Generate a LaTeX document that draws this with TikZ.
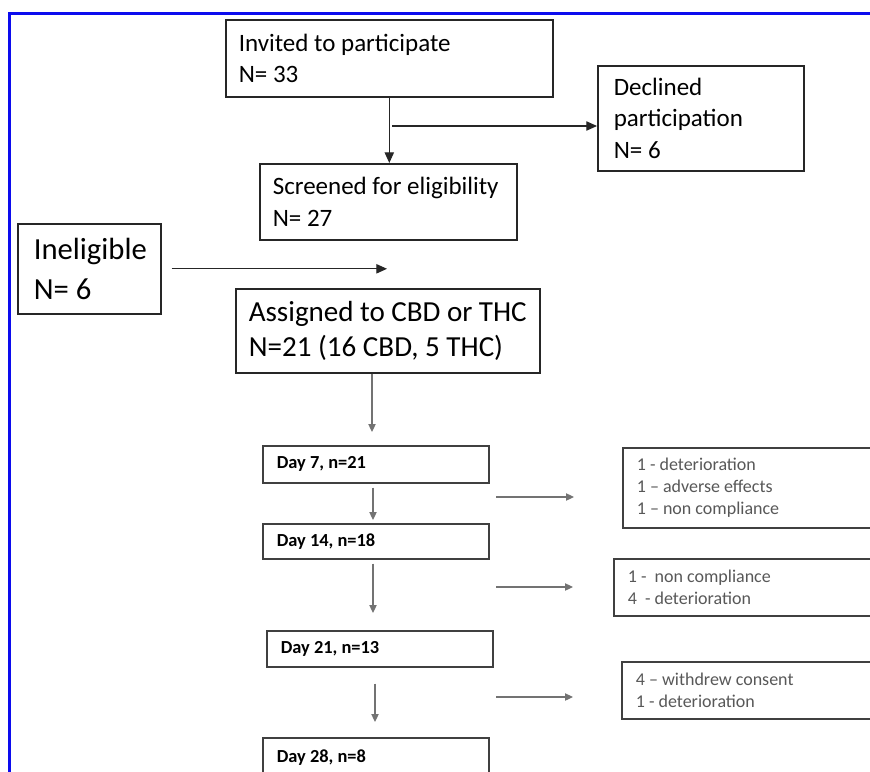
\documentclass[tikz,border=0pt]{standalone}
\usepackage{fontspec}
\setmainfont{Carlito}
\usetikzlibrary{arrows.meta}
\usetikzlibrary{positioning}
\definecolor{frame_blue}{RGB}{12,12,238}
\definecolor{line_grey}{RGB}{115,115,115}
\definecolor{text_grey}{RGB}{88,88,88}
\tikzstyle{top_box} = [
    draw=black!85, 
    line width=1.2pt, 
    anchor=north west, 
    align=flush left, 
    inner xsep=9.75pt, 
    inner ysep=0pt, 
    font=\fontsize{18.75}{23.5}\selectfont
]
\tikzstyle{big_box} = [
    top_box, 
    font=\fontsize{21.8}{26}\selectfont
]
\tikzstyle{day_box} = [
    top_box, 
    draw=black!75, 
    inner xsep=10.5pt, 
    text width=148.5pt, 
    font=\fontsize{13.8}{16}\selectfont\bfseries
]
\tikzstyle{loss_box} = [
    day_box, 
    text width=204pt, 
    text=text_grey, 
    font=\fontsize{13.5}{16.5}\selectfont
]
\tikzstyle{top_arrow} = [
    draw=black!85, 
    line width=0.8pt, 
    -{Triangle[length=8pt, width=7pt]}
]
\tikzstyle{low_arrow} = [
    draw=line_grey, 
    line width=0.8pt, 
    -{Triangle[length=6pt, width=5.5pt]}
]

\begin{document}
\begin{tikzpicture}[x=0.75pt, y=-0.75pt]
\clip (0,0) rectangle (870,771);
\fill[white] (0,0) rectangle (870,771);
\draw[frame_blue, line width=2.25pt] (9,772) -- (9,13) -- (871,13);

% enrolment
\node [top_box, text width=225.75pt, minimum height=57.75pt] (invited) at (225,19)
    {Invited to participate\\N= 33};
\node [top_box, inner xsep=12pt, text width=130.5pt, minimum height=78.75pt] (declined) at (597,65)
    {Declined\\participation\\N= 6};
\node [top_box, text width=173.25pt, minimum height=57pt] (screened) at (259,163)
    {Screened for eligibility\\N= 27};
\node [big_box, inner xsep=12pt, text width=83.25pt, minimum height=67.5pt,
    font=\fontsize{23}{30}\selectfont] (inelig) at (17,223)
    {Ineligible\\N= 6};
\node [big_box, text width=208.5pt, minimum height=63pt] (assigned) at (235,288)
    {Assigned to CBD or THC\\N=21 (16 CBD, 5 THC)};

% follow-up
\node [day_box, minimum height=27.75pt] (day7) at (262,445) {Day 7, n=21};
\node [day_box, minimum height=26.25pt] (day14) at (262,523) {Day 14, n=18};
\node [day_box, minimum height=27pt] (day21) at (266,630) {Day 21, n=13};
\node [day_box, minimum height=30pt] (day28) at (262,737) {Day 28, n=8};

\node [loss_box, minimum height=60pt] (loss7) at (622,447)
    {1 - deterioration\\1 -- adverse effects\\1 -- non compliance};
\node [loss_box, minimum height=42.75pt] (loss14) at (613,558)
    {1 -\ \ non compliance\\4\ \ - deterioration};
\node [loss_box, minimum height=42.75pt] (loss21) at (621,661)
    {4 -- withdrew consent\\1 - deterioration};

\coordinate (split) at (392,126);
\coordinate (inelig_end) at (387,265);
\coordinate (c0) at (372,432);
\coordinate (c1) at (373,520);
\coordinate (c2) at (373,613);
\coordinate (c3) at (375,722);
\coordinate (s1) at (496,497);
\coordinate (s2) at (496,587);
\coordinate (s3) at (496,697);

\draw [top_arrow] (invited.south) -- (invited.south |- screened.north);
\draw [top_arrow] (split) -- (split -| declined.west);
\draw [top_arrow, shorten <=7.5pt] (inelig.east) -- (inelig.east -| inelig_end);

\draw [low_arrow] (assigned.south -| c0) -- (c0);
\draw [low_arrow, shorten <=3pt] (day7.south -| c1) -- (c1);
\draw [low_arrow, shorten <=3pt] (day14.south -| c2) -- (c2);
\draw [low_arrow, shorten <=12pt] (day21.south -| c3) -- (c3);
\draw [low_arrow, shorten >=36pt] (s1) -- (s1 -| loss7.west);
\draw [low_arrow, shorten >=30pt] (s2) -- (s2 -| loss14.west);
\draw [low_arrow, shorten >=36pt] (s3) -- (s3 -| loss21.west);
\end{tikzpicture}
\end{document}
